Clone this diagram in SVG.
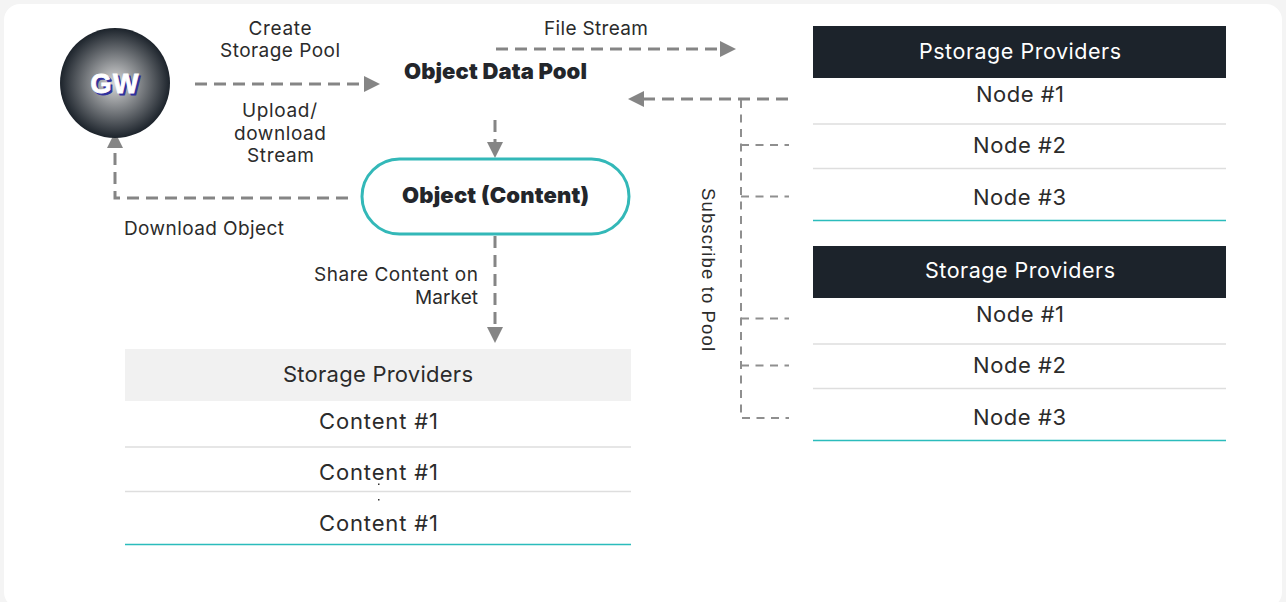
<svg xmlns="http://www.w3.org/2000/svg" width="1286" height="602" viewBox="0 0 1286 602">
<style>
text{font-family:"Inter","Noto Sans","Liberation Sans",sans-serif;fill:#2b2b2b;text-anchor:middle}
.s{font-size:19px}
.m{font-size:22px}
.b{font-size:22px;font-weight:900;fill:#23262b}
.hd{font-size:21.500px;fill:#fff}
.sub{font-family:"Liberation Sans",sans-serif;font-size:18.500px}
.gw{font-family:"Liberation Sans",sans-serif;font-size:27px;font-weight:700}
.d{fill:none;stroke:#858585;stroke-width:3;stroke-dasharray:12 7}
.t{fill:none;stroke:#8f8f8f;stroke-width:2;stroke-dasharray:8 6.500}
.a{fill:#858585}
.g{stroke:#dedede;stroke-width:1.500}
.c{stroke:#2bbcbc;stroke-width:1.500}
.h{fill:#1c232b}
</style>
<defs><radialGradient id="gw"><stop offset="0" stop-color="#d8d8d8"/><stop offset="1" stop-color="#1c232b"/></radialGradient></defs>
<rect width="1286" height="602" fill="#f4f4f4"/>
<rect x="4" y="4" width="1278" height="604" rx="16" fill="#fff"/>
<g id="connectors">
<path class="d" d="M195 84H366"/><path class="a" d="M364 76L380 84L364 92Z"/>
<path class="d" d="M496 49H722"/><path class="a" d="M720 41L736 49L720 57Z"/>
<path class="d" d="M788 99H642"/><path class="a" d="M644 91L628 99L644 107Z"/>
<path class="d" d="M495 120V146"/><path class="a" d="M487 142L495 158L503 142Z"/>
<path class="d" d="M495 236V330"/><path class="a" d="M487 327L495 343L503 327Z"/>
<path class="d" d="M348 198H115V148"/><path class="a" d="M107 148L115 132L123 148Z"/>
<path class="t" d="M741 100V418H789"/>
<path class="t" d="M741 145H789M741 196.500H789M741 318.500H789M741 365.500H789"/>
</g>
<g id="gw-node"><circle cx="115" cy="83" r="55" fill="url(#gw)"/>
<text class="gw" x="116.500" y="94.500" style="fill:#2f2f9e" textLength="48" stroke="#2f2f9e" stroke-width="0.800">GW</text>
<text class="gw" x="114.500" y="93" style="fill:#fff" textLength="48" stroke="#fff" stroke-width="0.800">GW</text></g>
<g id="object-data-pool"><text class="b" x="495.500" y="79" textLength="183">Object Data Pool</text></g>
<g id="object-content"><rect x="362" y="159" width="267" height="75" rx="37.500" fill="#fff" stroke="#33b8b8" stroke-width="3"/><text class="b" x="495.500" y="203" textLength="187">Object (Content)</text></g>
<g id="labels">
<text class="s" x="280" y="35" textLength="63">Create</text><text class="s" x="280" y="57" textLength="120">Storage Pool</text>
<text class="s" x="279.500" y="117" textLength="75">Upload/</text><text class="s" x="280" y="140" textLength="92">download</text><text class="s" x="280.500" y="162" textLength="67">Stream</text>
<text class="s" x="596" y="35" textLength="104">File Stream</text>
<text class="s" x="204" y="235" textLength="160">Download Object</text>
<text class="s" x="396" y="281" textLength="164">Share Content on</text><text class="s" x="446.500" y="304" textLength="63">Market</text>
<text class="sub" transform="translate(702 269.500) rotate(90)" textLength="163">Subscribe to Pool</text>
</g>
<g id="pstorage-providers"><rect class="h" x="813" y="26" width="413" height="52"/><text class="hd" x="1020" y="59" textLength="202">Pstorage Providers</text>
<text class="m" x="1020" y="102" textLength="88">Node #1</text><path class="g" d="M813 124H1226"/>
<text class="m" x="1019.500" y="153" textLength="93">Node #2</text><path class="g" d="M813 168.500H1226"/>
<text class="m" x="1019.500" y="205" textLength="93">Node #3</text><path class="c" d="M813 220.500H1226"/></g>
<g id="storage-providers"><rect class="h" x="813" y="246" width="413" height="52"/><text class="hd" x="1020" y="278" textLength="190">Storage Providers</text>
<text class="m" x="1020" y="322" textLength="88">Node #1</text><path class="g" d="M813 344H1226"/>
<text class="m" x="1019.500" y="373" textLength="93">Node #2</text><path class="g" d="M813 388.500H1226"/>
<text class="m" x="1019.500" y="425" textLength="93">Node #3</text><path class="c" d="M813 440.500H1226"/></g>
<g id="content-table"><rect x="125" y="349" width="506" height="52" fill="#f1f1f1"/><text class="m" x="378" y="382" textLength="190">Storage Providers</text>
<text class="m" x="378.500" y="429" textLength="119">Content #1</text><path class="g" d="M125 447H631"/>
<text class="m" x="378.500" y="480" textLength="119">Content #1</text><path class="g" d="M125 491.500H631"/>
<text class="m" x="378.500" y="531" textLength="119">Content #1</text><path class="c" d="M125 544.500H631"/>
<rect x="378" y="483.500" width="1.500" height="1.500" fill="#333"/><rect x="378" y="499" width="1.500" height="1.500" fill="#333"/>
</g>
</svg>
